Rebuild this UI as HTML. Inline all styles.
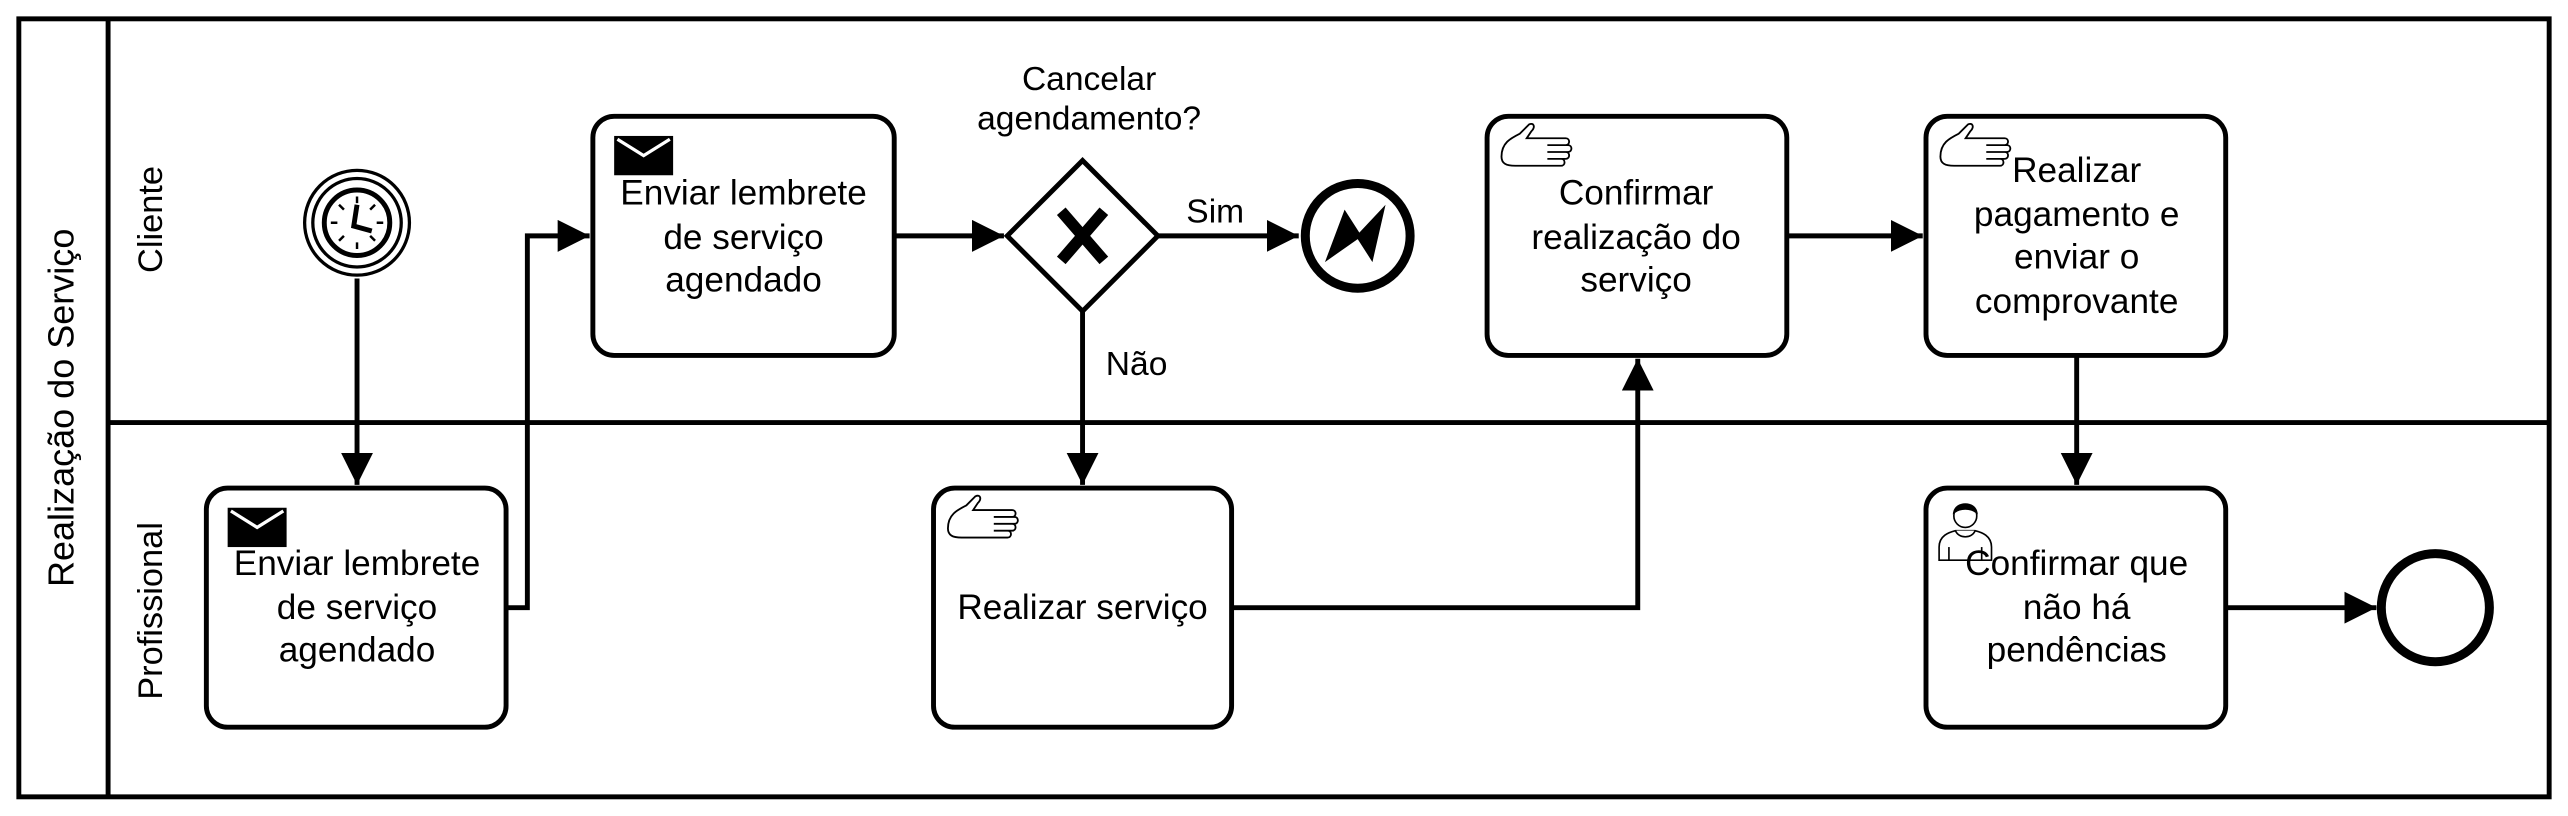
<!DOCTYPE html>
<html><head><meta charset="utf-8"><style>html,body{margin:0;padding:0;background:#fff}svg{display:block}</style></head>
<body>
<svg width="2568" height="816" viewBox="0 0 1568 498.2" preserveAspectRatio="none" xmlns="http://www.w3.org/2000/svg" font-family="Liberation Sans, Arial, sans-serif">
<defs>
<marker id="a" viewBox="0 0 10 10" refX="10" refY="5" markerWidth="6.5" markerHeight="6.5" markerUnits="strokeWidth" orient="auto"><path d="M0,0L10,5L0,10z" fill="#000"/></marker>
<g id="hand" fill="#fff" stroke="#000" stroke-width="0.8">
<path d="M2,14 C2,8 6,6 10,4 L14,0 C16,-1 17,1 15,3 L13,6 L30,6 C32,6 32,9 30,9 L22,9 L31,9 C33,9 33,12 31,12 L22,12 L30,12 C32,12 32,15 30,15 L22,15 L28,15 C30,15 30,18 28,18 L8,18 C4,18 2,17 2,14 Z"/>
</g>
<g id="env"><rect x="0" y="0" width="36" height="24" fill="#000"/><path d="M2,2 L18,12 L34,2" fill="none" stroke="#fff" stroke-width="2"/></g>
</defs>
<g fill="none" stroke="#000" stroke-width="3">
<rect x="11.5" y="11.5" width="1545" height="475"/>
<line x1="66" y1="11.5" x2="66" y2="486.5"/>
<line x1="66" y1="258" x2="1556.5" y2="258"/>
</g>
<g fill="#000">
<text transform="translate(45,249) rotate(-90)" text-anchor="middle" font-size="22">Realização do Serviço</text>
<text transform="translate(99,134) rotate(-90)" text-anchor="middle" font-size="21">Cliente</text>
<text transform="translate(99,373) rotate(-90)" text-anchor="middle" font-size="21">Profissional</text>
</g>
<g fill="none" stroke="#000" stroke-width="3">
<path d="M218,170 V296" marker-end="url(#a)"/>
<path d="M309,371 H322 V144 H360" marker-end="url(#a)"/>
<path d="M546,144 H613" marker-end="url(#a)"/>
<path d="M707,144 H793" marker-end="url(#a)"/>
<path d="M661,190 V296" marker-end="url(#a)"/>
<path d="M752,371 H1000 V219" marker-end="url(#a)"/>
<path d="M1091,144 H1174" marker-end="url(#a)"/>
<path d="M1268,217 V296" marker-end="url(#a)"/>
<path d="M1359,371 H1451" marker-end="url(#a)"/>
</g>
<g fill="#fff" stroke="#000" stroke-width="3">
<rect x="362" y="71" width="184" height="146" rx="13"/>
<rect x="126" y="298" width="183" height="146" rx="13"/>
<rect x="570" y="298" width="182" height="146" rx="13"/>
<rect x="908" y="71" width="183" height="146" rx="13"/>
<rect x="1176" y="71" width="183" height="146" rx="13"/>
<rect x="1176" y="298" width="183" height="146" rx="13"/>
</g>
<use href="#env" x="375" y="83"/>
<use href="#env" x="139" y="310"/>
<use href="#hand" transform="translate(576,303) scale(1.4)"/>
<use href="#hand" transform="translate(914,76) scale(1.4)"/>
<use href="#hand" transform="translate(1182,76) scale(1.4)"/>
<g fill="#fff" stroke="#000" stroke-width="1">
<path d="M1184,342 V334 C1184,327 1190,325 1194,324 L1206,324 C1210,325 1216,327 1216,334 V342 Z"/>
<path d="M1194,324 C1196,329 1204,329 1206,324" />
<circle cx="1200" cy="315" r="7"/>
<path d="M1193,313 C1194,306 1206,306 1207,313 C1203,310 1197,310 1193,313Z" fill="#000"/>
<line x1="1190" y1="334" x2="1190" y2="342"/><line x1="1210" y1="334" x2="1210" y2="342"/>
</g>
<g font-size="21.5" text-anchor="middle" fill="#000">
<text x="454" y="125">Enviar lembrete</text><text x="454" y="152">de serviço</text><text x="454" y="178">agendado</text>
<text x="218" y="351">Enviar lembrete</text><text x="218" y="378">de serviço</text><text x="218" y="404">agendado</text>
<text x="661" y="378">Realizar serviço</text>
<text x="999" y="125">Confirmar</text><text x="999" y="152">realização do</text><text x="999" y="178">serviço</text>
<text x="1268" y="111">Realizar</text><text x="1268" y="138">pagamento e</text><text x="1268" y="164">enviar o</text><text x="1268" y="191">comprovante</text>
<text x="1268" y="351">Confirmar que</text><text x="1268" y="378">não há</text><text x="1268" y="404">pendências</text>
</g>
<g font-size="20.5" text-anchor="middle" fill="#000">
<text x="665" y="55">Cancelar</text><text x="665" y="79">agendamento?</text>
<text x="742" y="136">Sim</text>
<text x="694" y="229">Não</text>
</g>
<g fill="#fff" stroke="#000">
<circle cx="218" cy="136" r="32" stroke-width="2"/>
<circle cx="218" cy="136" r="27" stroke-width="2"/>
<circle cx="218" cy="136" r="20" stroke-width="3"/>
<path d="M218,120 v4 M218,152 v-4 M202,136 h4 M234,136 h-4 M207,125 l3,3 M229,125 l-3,3 M207,147 l3,-3 M229,147 l-3,-3" stroke-width="1.5"/>
<path d="M218,125 L216,138 L227,141" fill="none" stroke-width="3"/>
</g>
<path d="M661,98 L707,144 L661,190 L615,144 Z" fill="#fff" stroke="#000" stroke-width="3"/>
<path d="M648,129 L674,159 M674,129 L648,159" stroke="#000" stroke-width="7"/>
<circle cx="829" cy="144" r="32" fill="#fff" stroke="#000" stroke-width="5.5"/>
<path d="M809,160 L821,128 L830,142 L846,125 L838,160 L829,146 Z" fill="#000"/>
<circle cx="1487" cy="371" r="33" fill="#fff" stroke="#000" stroke-width="5.5"/>
</svg>
</body></html>
